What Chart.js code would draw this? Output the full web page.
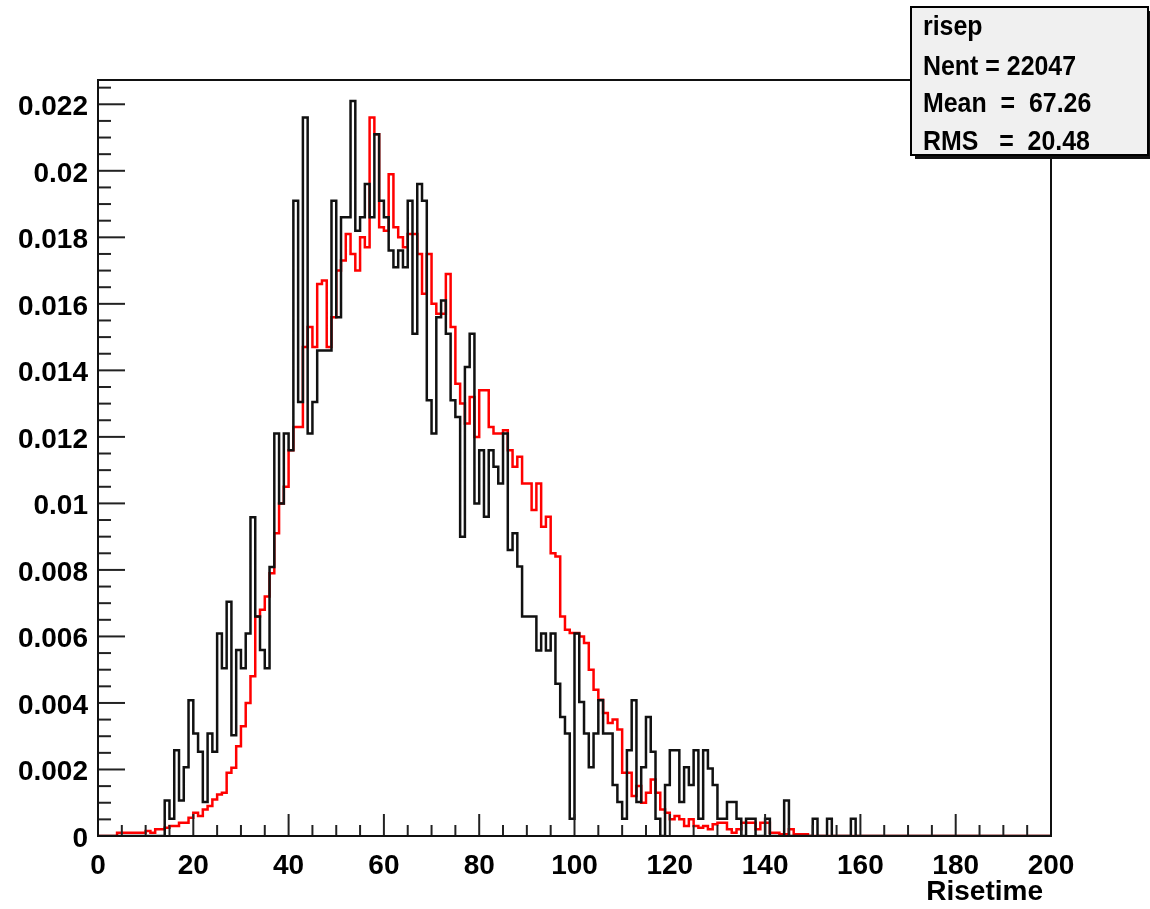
<!DOCTYPE html>
<html>
<head>
<meta charset="utf-8">
<script src="https://cdn.jsdelivr.net/npm/chart.js@4/dist/chart.umd.min.js"></script>
<style>
  html, body { margin: 0; padding: 0; background: #fff; }
  canvas { display: block; }
</style>
</head>
<body>
<canvas id="myChart" width="1150" height="909"></canvas>
<script>
// binning of the Risetime histograms
var nBins = 200;
var xLow = 0;
var xHigh = 200;

// risep (red), normalised bin contents, 10 bins per row
var risepValues = [
  0, 0, 0, 0, 0, 0.0001, 0.0001, 0.0001, 0.0001, 0.0001,
  0.0001, 0.00015, 0.0001, 0.0002, 0.0002, 0.00025, 0.0003, 0.0003, 0.0004, 0.0004,
  0.00055, 0.0007, 0.0006, 0.0008, 0.0009, 0.0011, 0.00125, 0.0013, 0.0019, 0.00205,
  0.0027, 0.0033, 0.0040, 0.0048, 0.0066, 0.0068, 0.0072, 0.0079, 0.0091, 0.0100,
  0.0105, 0.0116, 0.0123, 0.0123, 0.0147, 0.0153, 0.0147, 0.0166, 0.0167, 0.0147,
  0.0156, 0.0170, 0.0173, 0.0181, 0.0175, 0.0170, 0.0180, 0.0177, 0.0216, 0.0211,
  0.0183, 0.0182, 0.0199, 0.0183, 0.0180, 0.0177, 0.0181, 0.0181, 0.0175, 0.0163,
  0.0175, 0.0160, 0.0157, 0.0157, 0.0169, 0.0153, 0.0136, 0.0130, 0.0124, 0.0132,
  0.0120, 0.0134, 0.0134, 0.0123, 0.0121, 0.0121, 0.0122, 0.0116, 0.0111, 0.0114,
  0.0106, 0.0106, 0.0098, 0.0106, 0.0093, 0.0096, 0.0085, 0.0084, 0.0066, 0.0062,
  0.0061, 0.0061, 0.0060, 0.0058, 0.0050, 0.0044, 0.0041, 0.0037, 0.0034, 0.0035,
  0.0032, 0.0019, 0.0019, 0.0012, 0.0015, 0.0010, 0.0013, 0.0017, 0.0013, 0.0008,
  0.0007, 0.0005, 0.0006, 0.0005, 0.0003, 0.0005, 0.0003, 0.00025, 0.0003, 0.0002,
  0.00035, 0.0004, 0.0004, 0.0002, 0.0001, 0.0002, 0.0004, 0.0004, 0.0004, 0.0002,
  0.0004, 0.0004, 0.0001, 0.0001, 0.00005, 0.00005, 0.0002, 0.00005, 0.00005, 0.00005,
  0, 0, 0, 0, 0, 0, 0, 0, 0, 0,
  0, 0, 0, 0, 0, 0, 0, 0, 0, 0,
  0, 0, 0, 0, 0, 0, 0, 0, 0, 0,
  0, 0, 0, 0, 0, 0, 0, 0, 0, 0,
  0, 0, 0, 0, 0, 0, 0, 0, 0, 0
];

// second sample (black), same binning
var blackValues = [
  0, 0, 0, 0, 0, 0, 0, 0, 0, 0,
  0, 0, 0, 0, 0, 0.00107, 0.00052, 0.00258, 0.00107, 0.00207,
  0.00408, 0.00308, 0.00253, 0.00102, 0.00308, 0.00253, 0.00609, 0.00504, 0.00704, 0.00303,
  0.00559, 0.00504, 0.00609, 0.00958, 0.0066, 0.00559, 0.00504, 0.00809, 0.0121, 0.0100,
  0.0121, 0.0116, 0.0191, 0.01305, 0.0216, 0.0121, 0.01305, 0.0146, 0.0146, 0.0146,
  0.0191, 0.0156, 0.0186, 0.0186, 0.0221, 0.0182, 0.0186, 0.0196, 0.0186, 0.0211,
  0.0191, 0.0186, 0.0176, 0.0171, 0.0176, 0.0171, 0.0191, 0.0151, 0.0196, 0.0191,
  0.0131, 0.0121, 0.0156, 0.0161, 0.0151, 0.0131, 0.0126, 0.0090, 0.0141, 0.0151,
  0.0100, 0.0116, 0.0096, 0.0116, 0.0111, 0.0106, 0.0121, 0.0086, 0.0091, 0.0081,
  0.0066, 0.0066, 0.0066, 0.00558, 0.00609, 0.00558, 0.00609, 0.00458, 0.00358, 0.00308,
  0.00052, 0.00609, 0.00403, 0.00308, 0.00207, 0.00308, 0.00408, 0.00308, 0.00308, 0.00153,
  0.00102, 0.00052, 0.00258, 0.00408, 0.00102, 0.00207, 0.00358, 0.00253, 0.00052, 0,
  0.00153, 0.00258, 0.00258, 0.00102, 0.00207, 0.00153, 0.00258, 0.00052, 0.00258, 0.00203,
  0.00153, 0.00052, 0.00052, 0.00102, 0.00102, 0.00052, 0, 0.00052, 0.00052, 0,
  0, 0.00052, 0, 0, 0, 0.00107, 0, 0, 0, 0,
  0, 0.00052, 0, 0, 0.00052, 0, 0, 0, 0, 0.00052,
  0, 0, 0, 0, 0, 0, 0, 0, 0, 0,
  0, 0, 0, 0, 0, 0, 0, 0, 0, 0,
  0, 0, 0, 0, 0, 0, 0, 0, 0, 0,
  0, 0, 0, 0, 0, 0, 0, 0, 0, 0
];

var xTickValues = [0, 20, 40, 60, 80, 100, 120, 140, 160, 180, 200];
var xTickLabels = ['0', '20', '40', '60', '80', '100', '120', '140', '160', '180', '200'];
var yTickValues = [0, 0.002, 0.004, 0.006, 0.008, 0.01, 0.012, 0.014, 0.016, 0.018, 0.02, 0.022];
var yTickLabels = ['0', '0.002', '0.004', '0.006', '0.008', '0.01', '0.012', '0.014', '0.016', '0.018', '0.02', '0.022'];
var yMax = 0.02273;
var xTitle = 'Risetime';

// stat box of the first histogram
var statsLines = ['risep', 'Nent = 22047', 'Mean  =  67.26', 'RMS   =  20.48'];

var fontFamily = '"Liberation Sans", Arial, Helvetica, sans-serif';

// histogram -> step points (low edge of every bin + closing edge)
function histPoints(values) {
  var w = (xHigh - xLow) / nBins;
  var pts = values.map(function (v, i) { return { x: xLow + i * w, y: v }; });
  pts.push({ x: xHigh, y: values[values.length - 1] });
  return pts;
}

// ROOT-style frame, inner ticks, axis title and stat box
var rootDecor = {
  id: 'rootDecor',
  afterDraw: function (chart) {
    var c = chart.ctx, a = chart.chartArea;
    var xs = chart.scales.x, ys = chart.scales.y;
    var k, p, len;
    c.save();
    c.strokeStyle = '#222';
    c.lineWidth = 2;

    var ySub = (yTickValues[1] - yTickValues[0]) / 4;
    for (k = 0; yTickValues[0] + k * ySub <= ys.max + 1e-9; k++) {
      p = ys.getPixelForValue(yTickValues[0] + k * ySub);
      len = (k % 4 === 0) ? 27 : 13;
      c.beginPath(); c.moveTo(a.left, p); c.lineTo(a.left + len, p); c.stroke();
    }
    var xSub = (xTickValues[1] - xTickValues[0]) / 4;
    for (k = 0; xTickValues[0] + k * xSub <= xs.max + 1e-9; k++) {
      p = xs.getPixelForValue(xTickValues[0] + k * xSub);
      len = (k % 4 === 0) ? 22 : 11;
      c.beginPath(); c.moveTo(p, a.bottom); c.lineTo(p, a.bottom - len); c.stroke();
    }

    c.strokeStyle = '#111';
    c.strokeRect(a.left, a.top, a.right - a.left, a.bottom - a.top);

    c.fillStyle = '#000';
    c.font = 'bold 28px ' + fontFamily;
    c.textAlign = 'right';
    c.textBaseline = 'middle';
    c.fillText(xTitle, a.right - 8, 892);

    // stat box with shadow
    c.fillStyle = '#111';
    c.fillRect(915, 11, 240, 148);
    c.fillStyle = '#f0f0f0';
    c.fillRect(911, 7, 237, 148);
    c.strokeStyle = '#000';
    c.lineWidth = 2;
    c.strokeRect(911, 7, 237, 148);

    c.fillStyle = '#000';
    c.textAlign = 'left';
    c.textBaseline = 'alphabetic';
    var baselines = [35, 75, 112, 150];
    statsLines.forEach(function (t, i) {
      c.save();
      c.translate(923, baselines[i]);
      c.scale(0.89, 1);
      c.fillText(t, 0, 0);
      c.restore();
    });
    c.restore();
  }
};

var ctx = document.getElementById('myChart').getContext('2d');
var chart = new Chart(ctx, {
  type: 'line',
  data: {
    datasets: [{
      label: 'black',
      data: histPoints(blackValues),
      borderColor: '#111',
      borderWidth: 2.5,
      stepped: 'after',
      pointRadius: 0,
      fill: false,
      order: 0
    }, {
      label: 'risep',
      data: histPoints(risepValues),
      borderColor: '#ff0000',
      borderWidth: 2.5,
      stepped: 'after',
      pointRadius: 0,
      fill: false,
      order: 1
    }]
  },
  options: {
    responsive: false,
    devicePixelRatio: 1,
    animation: false,
    layout: { padding: { left: 0, top: 80, right: 99, bottom: 0 } },
    plugins: { legend: { display: false }, tooltip: { enabled: false } },
    scales: {
      x: {
        type: 'linear',
        min: xLow,
        max: xHigh,
        grid: { display: false, drawTicks: false },
        border: { display: false },
        afterBuildTicks: function (s) { s.ticks = xTickValues.map(function (v) { return { value: v }; }); },
        afterFit: function (s) { s.height = 73; },
        ticks: {
          padding: 13,
          autoSkip: false,
          maxRotation: 0,
          color: '#000',
          font: { family: fontFamily, size: 28, weight: 'bold' },
          callback: function (v, i) { return xTickLabels[i]; }
        }
      },
      y: {
        type: 'linear',
        min: 0,
        max: yMax,
        grid: { display: false, drawTicks: false },
        border: { display: false },
        afterBuildTicks: function (s) { s.ticks = yTickValues.map(function (v) { return { value: v }; }); },
        afterFit: function (s) { s.width = 98; },
        ticks: {
          padding: 10,
          labelOffset: 3,
          autoSkip: false,
          color: '#000',
          font: { family: fontFamily, size: 28, weight: 'bold' },
          callback: function (v, i) { return yTickLabels[i]; }
        }
      }
    }
  },
  plugins: [rootDecor]
});
</script>
</body>
</html>
